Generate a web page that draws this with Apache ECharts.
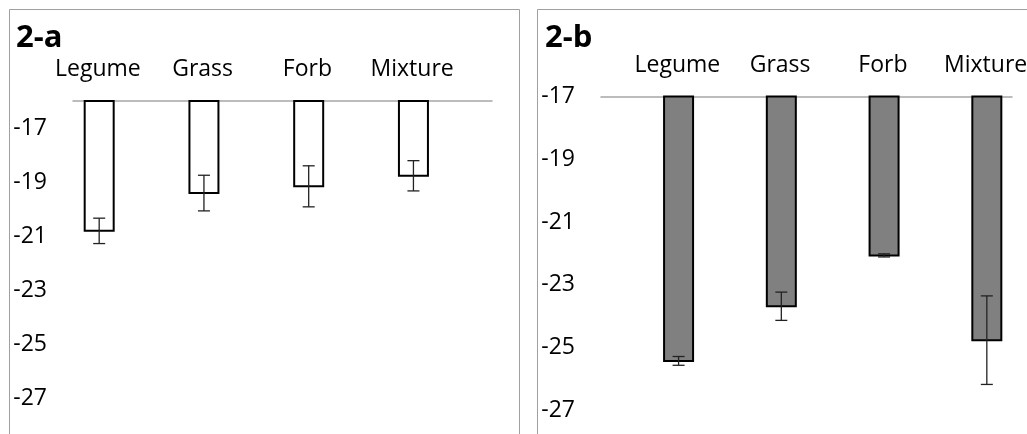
<!DOCTYPE html>
<html>
<head>
<meta charset="utf-8">
<script src="https://cdn.jsdelivr.net/npm/echarts@6/dist/echarts.min.js"></script>
<style>
html,body{margin:0;padding:0;background:#fff;}
#c{width:1027px;height:434px;}
</style>
</head>
<body>
<div id="c"></div>
<script>
var categories = ['Legume', 'Grass', 'Forb', 'Mixture'];
var panelTitles = ['2-a', '2-b'];
var valuesA = [-20.81, -19.41, -19.16, -18.77];
var errorsA = [0.47, 0.66, 0.76, 0.56];
var valuesB = [-25.42, -23.68, -22.06, -24.76];
var errorsB = [0.14, 0.45, 0.05, 1.41];
var axisA = { max: -16, min: -29 };
var axisB = { max: -17, min: -28 };
var tickLabelsShown = [-17, -19, -21, -23, -25, -27];

var FONT = 'Open Sans';

function makeData(vals, errs) {
  return categories.map(function (c, i) { return [c, vals[i], errs[i]]; });
}

function makeRender(baseVal, offsetFrac, fill) {
  return function (params, api) {
    var v = api.value(1), err = api.value(2);
    var band = api.size([1, 0])[0];
    var top = api.coord([api.value(0), baseVal]);
    var bot = api.coord([api.value(0), v]);
    var cx = top[0] + offsetFrac * band;
    var w = 29;
    var eHi = api.coord([api.value(0), v + err])[1];
    var eLo = api.coord([api.value(0), v - err])[1];
    var cap = 6;
    return {
      type: 'group',
      children: [
        { type: 'rect', shape: { x: cx - w / 2, y: top[1], width: w, height: bot[1] - top[1] },
          style: { fill: fill, stroke: '#000', lineWidth: 2 } },
        { type: 'line', shape: { x1: cx, y1: eHi, x2: cx, y2: eLo }, style: { stroke: '#222', lineWidth: 1.3 } },
        { type: 'line', shape: { x1: cx - cap, y1: eHi, x2: cx + cap, y2: eHi }, style: { stroke: '#222', lineWidth: 1.3 } },
        { type: 'line', shape: { x1: cx - cap, y1: eLo, x2: cx + cap, y2: eLo }, style: { stroke: '#222', lineWidth: 1.3 } }
      ]
    };
  };
}

function yAxisCfg(idx, ext) {
  return {
    type: 'value', gridIndex: idx, min: ext.min, max: ext.max, interval: 1,
    axisLine: { show: false }, axisTick: { show: false }, splitLine: { show: false },
    axisLabel: {
      margin: 26, color: '#000', fontFamily: FONT, fontSize: 23,
      formatter: function (v) { return tickLabelsShown.indexOf(v) >= 0 ? String(v) : ''; }
    }
  };
}

function xAxisCfg(idx, pad) {
  return {
    type: 'category', gridIndex: idx, data: categories, position: 'top',
    axisLine: { show: true, onZero: false, lineStyle: { color: '#a6a6a6', width: 1.5 } },
    axisTick: { show: false },
    axisLabel: { margin: 20, color: '#000', fontFamily: FONT, fontSize: 23, padding: pad, interval: 0 }
  };
}

var chart = echarts.init(document.getElementById('c'), null, { renderer: 'canvas' });
chart.setOption({
  animation: false,
  backgroundColor: '#fff',
  title: [
    { text: panelTitles[0], left: 16, top: 23, padding: 0, textStyle: { fontFamily: FONT, fontWeight: 'bold', fontSize: 31, color: '#000' } },
    { text: panelTitles[1], left: 545, top: 23, padding: 0, textStyle: { fontFamily: FONT, fontWeight: 'bold', fontSize: 31, color: '#000' } }
  ],
  graphic: [
    { type: 'rect', shape: { x: 9.5, y: 9.5, width: 510, height: 440 }, style: { fill: 'none', stroke: '#a0a0a0', lineWidth: 1 }, z: -1 },
    { type: 'rect', shape: { x: 537.5, y: 9.5, width: 520, height: 440 }, style: { fill: 'none', stroke: '#a0a0a0', lineWidth: 1 }, z: -1 }
  ],
  grid: [
    { left: 73, width: 419, top: 101, height: 351, outerBoundsMode: 'none', containLabel: false },
    { left: 601, width: 411, top: 96.5, height: 345.4, outerBoundsMode: 'none', containLabel: false }
  ],
  xAxis: [xAxisCfg(0, [0, 55, 0, 0]), xAxisCfg(1, [0, 0, 0, 50])],
  yAxis: [yAxisCfg(0, axisA), yAxisCfg(1, axisB)],
  series: [
    { type: 'custom', xAxisIndex: 0, yAxisIndex: 0, data: makeData(valuesA, errorsA),
      renderItem: makeRender(axisA.max, -0.25, '#fff'), encode: { x: 0, y: 1 } },
    { type: 'custom', xAxisIndex: 1, yAxisIndex: 1, data: makeData(valuesB, errorsB),
      renderItem: makeRender(axisB.max, 0.255, '#808080'), encode: { x: 0, y: 1 } }
  ]
});
</script>
</body>
</html>
